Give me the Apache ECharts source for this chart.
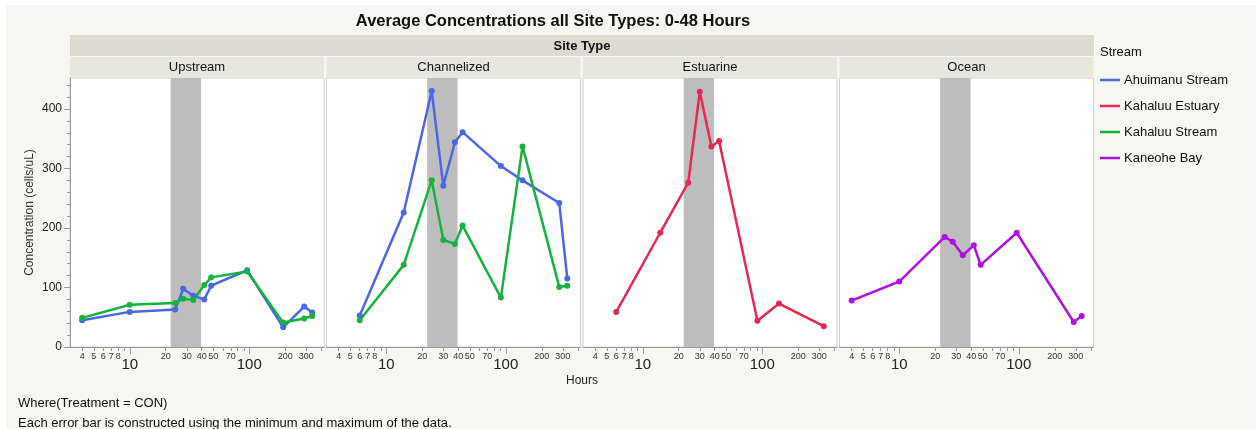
<!DOCTYPE html>
<html>
<head>
<meta charset="utf-8">
<script src="https://cdn.jsdelivr.net/npm/echarts@6/dist/echarts.min.js"></script>
<style>
html,body{margin:0;padding:0;background:#fff;}
#chart{width:1256px;height:429px;}
</style>
</head>
<body>
<div id="chart"></div>
<script>
// ---------- data ----------
const panelNames = ['Upstream', 'Channelized', 'Estuarine', 'Ocean'];
const streamNames = ['Ahuimanu Stream', 'Kahaluu Estuary', 'Kahaluu Stream', 'Kaneohe Bay'];
const streamColors = ['#4A67E6', '#E8284C', '#14B43C', '#B010E0'];

const hoursUp = [4, 10, 24, 28, 34, 42, 48, 96, 192, 288, 336];
const upAhuimanu = [45, 59, 63, 98, 86, 80, 103, 129, 33, 68, 58];
const upKahaluuStream = [49, 71, 74, 81, 79, 104, 117, 127, 41, 48, 52];

const hoursCh = [6, 14, 24, 30, 37.5, 43.5, 91, 138, 280, 327];
const chAhuimanu = [53, 226, 430, 271, 344, 361, 304, 280, 242, 115];
const chKahaluuStream = [45, 138, 280, 180, 173, 204, 83, 337, 101, 103];

const hoursEs = [6, 14, 24, 30, 37.5, 43.5, 91, 138, 327];
const esKahaluuEstuary = [59, 192, 276, 429, 337, 346, 44, 73, 35];

const hoursOc = [4, 10, 24, 28, 34, 42, 48, 96, 288, 336];
const ocKaneoheBay = [78, 110, 185, 177, 154, 171, 138, 192, 42, 52];

const shadeHours = [22, 39.5];
const minorLabelHours = [4, 5, 6, 7, 8, 20, 30, 40, 50, 70, 200, 300];
const majorLabelHours = [10, 100];
const minorTickHours = [4, 5, 6, 7, 8, 9, 20, 30, 40, 50, 60, 70, 80, 90, 200, 300, 400];
const yMajorTicks = [0, 100, 200, 300, 400];
const yMinorTicks = [0, 20, 40, 60, 80, 100, 120, 140, 160, 180, 200, 220, 240, 260, 280, 300, 320, 340, 360, 380, 400, 420, 440];

// ---------- layout ----------
const FONT = '"Liberation Sans", Arial, Helvetica, sans-serif';
const gridLeft = [70, 326.5, 583, 839.5];
const gridW = 254;
const gridTop = 78;
const gridH = 269;
const X_MIN = 0.5, X_MAX = 2.625;
const Y_MIN = 0, Y_MAX = 452;
const lg = Math.log10;

const panels = [
  {hours: hoursUp, lines: [[0, upAhuimanu], [2, upKahaluuStream]]},
  {hours: hoursCh, lines: [[0, chAhuimanu], [2, chKahaluuStream]]},
  {hours: hoursEs, lines: [[1, esKahaluuEstuary]]},
  {hours: hoursOc, lines: [[3, ocKaneoheBay]]}
];

const grids = [], xAxes = [], yAxes = [], series = [];
const fmt = v => String(Math.round(Math.pow(10, v)));

panels.forEach((p, i) => {
  grids.push({left: gridLeft[i], top: gridTop, width: gridW, height: gridH,
    show: true, backgroundColor: '#ffffff', borderColor: '#d2d2d2', borderWidth: 1});
  // minor ticks + small labels
  xAxes.push({type: 'value', gridIndex: i, min: X_MIN, max: X_MAX, position: 'bottom',
    axisLine: {show: true, onZero: false, lineStyle: {color: '#9a9a9a', width: 1}},
    axisTick: {show: true, customValues: minorTickHours.map(lg), length: 4, lineStyle: {color: '#9a9a9a'}},
    axisLabel: {show: true, customValues: minorLabelHours.map(lg), formatter: fmt, fontSize: 9, margin: 5, color: '#333', fontFamily: FONT},
    splitLine: {show: false}});
  // major ticks + big labels
  xAxes.push({type: 'value', gridIndex: i, min: X_MIN, max: X_MAX, position: 'bottom',
    axisLine: {show: false, onZero: false},
    axisTick: {show: true, customValues: majorLabelHours.map(lg), length: 7, lineStyle: {color: '#9a9a9a'}},
    axisLabel: {show: true, customValues: majorLabelHours.map(lg), formatter: fmt, fontSize: 15, margin: 10, color: '#222', fontFamily: FONT},
    splitLine: {show: false}});
  if (i === 0) {
    yAxes.push({type: 'value', gridIndex: 0, min: Y_MIN, max: Y_MAX, position: 'left',
      name: 'Concentration (cells/uL)', nameLocation: 'middle', nameGap: 34, nameRotate: 90,
      nameTextStyle: {fontSize: 12, color: '#333', fontFamily: FONT},
      axisLine: {show: true, lineStyle: {color: '#9a9a9a'}},
      axisTick: {show: true, customValues: yMajorTicks, length: 6, lineStyle: {color: '#9a9a9a'}},
      axisLabel: {customValues: yMajorTicks, fontSize: 12, margin: 8, color: '#222', fontFamily: FONT},
      splitLine: {show: false}});
    yAxes.push({type: 'value', gridIndex: 0, min: Y_MIN, max: Y_MAX, position: 'left',
      axisLine: {show: false},
      axisTick: {show: true, customValues: yMinorTicks, length: 3, lineStyle: {color: '#9a9a9a'}},
      axisLabel: {show: false}, splitLine: {show: false}});
  } else {
    yAxes.push({type: 'value', gridIndex: i, min: Y_MIN, max: Y_MAX, show: false, splitLine: {show: false}});
  }
});

// y axis index for each grid
const yIdx = [0, 2, 3, 4];

panels.forEach((p, i) => {
  // shaded band
  series.push({type: 'line', name: 'band' + i, xAxisIndex: 2 * i, yAxisIndex: yIdx[i], data: [], z: 1,
    silent: true,
    markArea: {silent: true, itemStyle: {color: '#bdbdbd'},
      data: [[{xAxis: lg(shadeHours[0])}, {xAxis: lg(shadeHours[1])}]]}});
  p.lines.forEach(([si, vals]) => {
    series.push({type: 'line', name: streamNames[si], xAxisIndex: 2 * i, yAxisIndex: yIdx[i], z: 3,
      data: p.hours.map((h, k) => [lg(h), vals[k]]),
      color: streamColors[si],
      symbol: 'circle', symbolSize: 6, showSymbol: true,
      lineStyle: {width: 2.5, color: streamColors[si]},
      itemStyle: {color: streamColors[si]},
      animation: false});
  });
});

// ---------- decorations ----------
const graphic = [
  {type: 'rect', left: 6, top: 5, shape: {width: 1250, height: 424}, style: {fill: '#f6f6f2'}, z: -10, silent: true},
  {type: 'rect', shape: {x: 70, y: 35, width: 1024, height: 21}, style: {fill: '#dddbcf'}, z: -5},
  {type: 'text', x: 582, y: 46, style: {text: 'Site Type', font: 'bold 13px ' + FONT, fill: '#111', align: 'center', verticalAlign: 'middle'}},
  {type: 'text', x: 553, y: 21, style: {text: 'Average Concentrations all Site Types: 0-48 Hours', font: 'bold 16.5px ' + FONT, fill: '#111', align: 'center', verticalAlign: 'middle'}},
  {type: 'text', x: 582, y: 381, style: {text: 'Hours', font: '12px ' + FONT, fill: '#222', align: 'center', verticalAlign: 'middle'}},
  {type: 'text', x: 18, y: 403, style: {text: 'Where(Treatment = CON)', font: '13px ' + FONT, fill: '#111', align: 'left', verticalAlign: 'middle'}},
  {type: 'text', x: 18, y: 423, style: {text: 'Each error bar is constructed using the minimum and maximum of the data.', font: '13px ' + FONT, fill: '#111', align: 'left', verticalAlign: 'middle'}},
  {type: 'text', x: 1100, y: 52, style: {text: 'Stream', font: '13px ' + FONT, fill: '#111', align: 'left', verticalAlign: 'middle'}}
];
panelNames.forEach((n, i) => {
  graphic.push({type: 'rect', shape: {x: gridLeft[i], y: 57, width: gridW, height: 20}, style: {fill: '#e8e7de'}, z: -5});
  graphic.push({type: 'text', x: gridLeft[i] + gridW / 2, y: 67.5, style: {text: n, font: '13px ' + FONT, fill: '#111', align: 'center', verticalAlign: 'middle'}});
});

const chart = echarts.init(document.getElementById('chart'), null, {renderer: 'canvas'});
chart.setOption({
  animation: false,
  backgroundColor: '#ffffff',
  grid: grids,
  xAxis: xAxes,
  yAxis: yAxes,
  series: series,
  graphic: graphic,
  legend: {
    data: streamNames, orient: 'vertical', left: 1100, top: 73.5, padding: 0, itemGap: 13,
    icon: 'rect', itemWidth: 20, itemHeight: 2.5, itemStyle: {borderWidth: 0},
    textStyle: {fontSize: 13, color: '#111', fontFamily: FONT, padding: [0, 0, 0, -1]},
    selectedMode: false
  }
});
</script>
</body>
</html>
